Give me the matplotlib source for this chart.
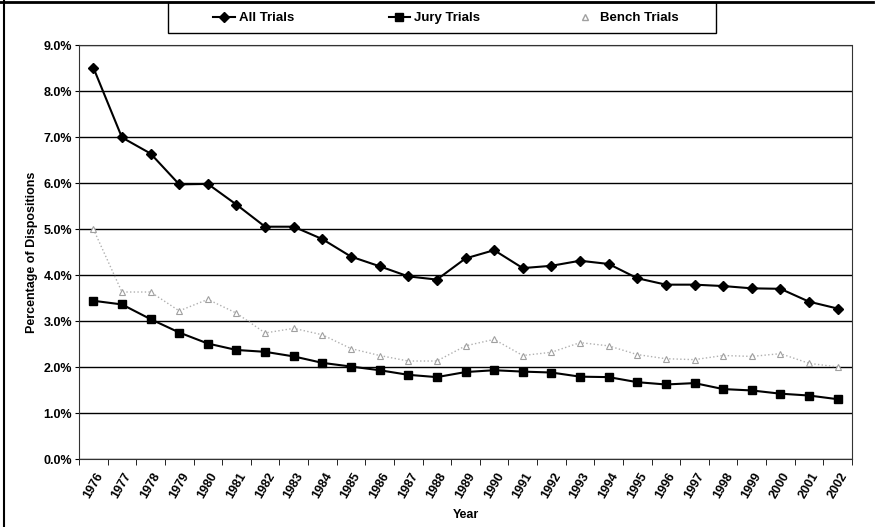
import numpy as np
import matplotlib
matplotlib.use('Agg')
import matplotlib.pyplot as plt
from matplotlib.lines import Line2D
from matplotlib.patches import Rectangle

plt.rcParams['font.family'] = ['Liberation Sans', 'DejaVu Sans']
plt.rcParams['font.weight'] = 'bold'

years = list(range(1976, 2003))
all_trials = [8.51, 6.99, 6.64, 5.97, 5.98, 5.53, 5.05, 5.05, 4.78, 4.40, 4.19,
              3.97, 3.90, 4.36, 4.54, 4.15, 4.20, 4.31, 4.24, 3.93, 3.79, 3.79,
              3.76, 3.71, 3.70, 3.42, 3.27]
jury_trials = [3.44, 3.36, 3.04, 2.75, 2.51, 2.37, 2.33, 2.23, 2.09, 2.01, 1.93,
               1.83, 1.78, 1.89, 1.93, 1.90, 1.88, 1.79, 1.78, 1.67, 1.62, 1.65,
               1.52, 1.49, 1.42, 1.38, 1.30]
bench_trials = [5.00, 3.63, 3.63, 3.22, 3.47, 3.17, 2.74, 2.84, 2.70, 2.40, 2.25,
                2.13, 2.13, 2.46, 2.60, 2.25, 2.32, 2.53, 2.46, 2.27, 2.18, 2.16,
                2.25, 2.23, 2.29, 2.08, 2.00]

fig = plt.figure(figsize=(8.81, 5.27), dpi=100)
ax = fig.add_axes([79/881, 1-459/527, (852-79)/881, (459-45)/527])

x = np.arange(len(years))
ax.plot(x, bench_trials, ':', color='#b0b0b0', lw=1, marker='^', ms=5,
        mfc='white', mec='#a0a0a0', mew=0.8, label='Bench Trials')
ax.plot(x, jury_trials, '-', color='black', lw=1.5, marker='s', ms=5.5,
        label='Jury Trials')
ax.plot(x, all_trials, '-', color='black', lw=1.5, marker='D', ms=5,
        label='All Trials')

ax.set_xlim(-0.5, len(years) - 0.5)
ax.set_ylim(0, 9)
ax.set_yticks(np.arange(0, 10, 1))
ax.set_yticklabels([f'{v:.1f}%' for v in range(10)], fontsize=9, fontweight='bold')
ax.set_xticks(x)
ax.set_xticklabels([str(y) for y in years], rotation=60, fontsize=9,
                   fontweight='bold', ha='center', va='top')
ax.set_xticks(np.arange(-0.5, len(years)), minor=True)
ax.tick_params(axis='x', which='major', length=0, pad=8)
ax.tick_params(axis='x', which='minor', length=4, direction='out')
ax.tick_params(axis='y', length=3, direction='out', pad=2)
ax.grid(axis='y', color='black', lw=1)
ax.set_axisbelow(True)
for s in ax.spines.values():
    s.set_linewidth(0.8)
    s.set_color('#333333')
for s in ['top', 'right']:
    ax.spines[s].set_linestyle((0, (2, 1)))

ax.set_ylabel('Percentage of Dispositions', fontsize=9, fontweight='bold', labelpad=4)
ax.set_xlabel('Year', fontsize=9, fontweight='bold', labelpad=6)

# legend box
fig.add_artist(Rectangle((168/881, 1-33/527), 548/881, 31/527, fill=False,
                         edgecolor='black', lw=1, transform=fig.transFigure))
handles = [
    Line2D([], [], color='black', lw=1.5, marker='D', ms=5),
    Line2D([], [], color='black', lw=1.5, marker='s', ms=5.5),
    Line2D([], [], color='#b0b0b0', lw=0, marker='^', ms=5, mfc='white', mec='#a0a0a0'),
]
leg = fig.legend(handles, ['All Trials', 'Jury Trials', 'Bench Trials'],
                 loc='center', bbox_to_anchor=(446/881, 1-18/527),
                 ncol=3, frameon=False, fontsize=9.5, handlelength=1.6,
                 handletextpad=0.3, columnspacing=7.2)
for t in leg.get_texts():
    t.set_fontweight('bold')

fig.add_artist(Line2D([4/881, 4/881], [0, 1], color='black', lw=1.5,
                      transform=fig.transFigure))
fig.add_artist(Line2D([0, 873/881], [1-2/527, 1-2/527], color='black', lw=2,
                      transform=fig.transFigure))

fig.savefig('out.png', dpi=100)
